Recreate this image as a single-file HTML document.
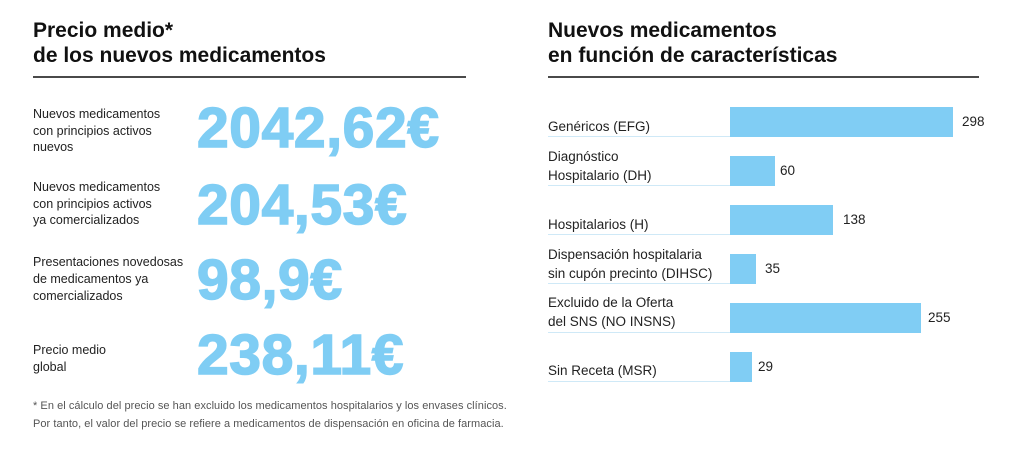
<!DOCTYPE html>
<html>
<head>
<meta charset="utf-8">
<style>
  html, body { margin:0; padding:0; }
  body { width:1024px; height:453px; background:#fff; position:relative; overflow:hidden;
         font-family:"Liberation Sans", Arial, sans-serif; color:#222; }
  .abs { position:absolute; white-space:nowrap; }
  .title { font-size:21px; line-height:25px; font-weight:bold; color:#111; }
  .rule { position:absolute; height:2px; background:#4a4a4a; }
  .lbl { font-size:12.5px; line-height:16.5px; color:#222; }
  .big { font-size:57px; line-height:57px; font-weight:bold; color:#7fcdf4; letter-spacing:0.6px; -webkit-text-stroke:1.5px #7fcdf4; }
  .foot { font-size:11px; line-height:18px; color:#555; letter-spacing:0.05px; }
  .bar { position:absolute; background:#80cdf4; height:30px; left:730px; }
  .sep { position:absolute; left:548px; width:182px; height:1px; background:#cfe9f7; }
  .rl { font-size:13.5px; line-height:19px; color:#222; left:548px; }
  .val { font-size:13.5px; line-height:30px; color:#222; }
</style>
</head>
<body>
  <!-- Left panel -->
  <div class="abs title" style="left:33px; top:18px;">Precio medio*<br>de los nuevos medicamentos</div>
  <div class="rule" style="left:33px; top:76px; width:433px;"></div>

  <div class="abs lbl" style="left:33px; top:106px;">Nuevos medicamentos<br>con principios activos<br>nuevos</div>
  <div class="abs big" style="left:197px; top:100px;">2042,62€</div>

  <div class="abs lbl" style="left:33px; top:179px;">Nuevos medicamentos<br>con principios activos<br>ya comercializados</div>
  <div class="abs big" style="left:197px; top:177px;">204,53€</div>

  <div class="abs lbl" style="left:33px; top:254px; line-height:17px;">Presentaciones novedosas<br>de medicamentos ya<br>comercializados</div>
  <div class="abs big" style="left:197px; top:252px;">98,9€</div>

  <div class="abs lbl" style="left:33px; top:342px; line-height:17px;">Precio medio<br>global</div>
  <div class="abs big" style="left:197px; top:327px;">238,11€</div>

  <div class="abs foot" style="left:33px; top:397px;">* En el cálculo del precio se han excluido los medicamentos hospitalarios y los envases clínicos.<br>Por tanto, el valor del precio se refiere a medicamentos de dispensación en oficina de farmacia.</div>

  <!-- Right panel -->
  <div class="abs title" style="left:548px; top:18px;">Nuevos medicamentos<br>en función de características</div>
  <div class="rule" style="left:548px; top:76px; width:431px;"></div>

  <!-- Row 1 -->
  <div class="abs rl" style="top:117px;">Genéricos (EFG)</div>
  <div class="sep" style="top:136px;"></div>
  <div class="bar" style="top:107px; width:223px;"></div>
  <div class="abs val" style="left:962px; top:107px;">298</div>

  <!-- Row 2 -->
  <div class="abs rl" style="top:147px;">Diagnóstico<br>Hospitalario (DH)</div>
  <div class="sep" style="top:185px;"></div>
  <div class="bar" style="top:156px; width:45px;"></div>
  <div class="abs val" style="left:780px; top:156px;">60</div>

  <!-- Row 3 -->
  <div class="abs rl" style="top:215px;">Hospitalarios (H)</div>
  <div class="sep" style="top:234px;"></div>
  <div class="bar" style="top:205px; width:103px;"></div>
  <div class="abs val" style="left:843px; top:205px;">138</div>

  <!-- Row 4 -->
  <div class="abs rl" style="top:245px;">Dispensación hospitalaria<br>sin cupón precinto (DIHSC)</div>
  <div class="sep" style="top:283px;"></div>
  <div class="bar" style="top:254px; width:26px;"></div>
  <div class="abs val" style="left:765px; top:254px;">35</div>

  <!-- Row 5 -->
  <div class="abs rl" style="top:293px;">Excluido de la Oferta<br>del SNS (NO INSNS)</div>
  <div class="sep" style="top:332px;"></div>
  <div class="bar" style="top:303px; width:191px;"></div>
  <div class="abs val" style="left:928px; top:303px;">255</div>

  <!-- Row 6 -->
  <div class="abs rl" style="top:361px;">Sin Receta (MSR)</div>
  <div class="sep" style="top:381px;"></div>
  <div class="bar" style="top:352px; width:22px;"></div>
  <div class="abs val" style="left:758px; top:352px;">29</div>
</body>
</html>
